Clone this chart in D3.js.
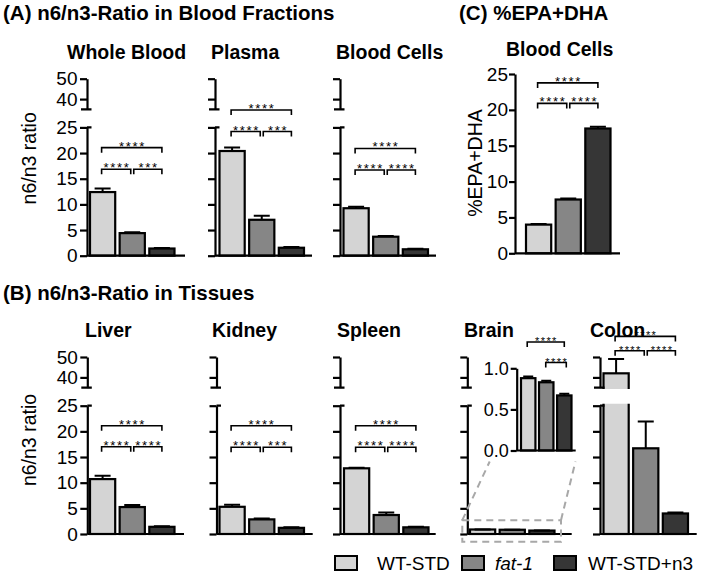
<!DOCTYPE html>
<html><head><meta charset="utf-8">
<script src="https://cdn.jsdelivr.net/npm/d3@7"></script>
<style>body{margin:0;background:#fff} svg{display:block} text{font-family:"Liberation Sans",Arial,Helvetica,sans-serif}</style>
</head><body><svg id="c" width="704" height="574"></svg>
<script>
// ---------------- DATA ----------------
const groups = ["WT-STD", "fat-1", "WT-STD+n3"];
const wholeBlood = [12.4, 4.4, 1.4],   wholeBloodErr = [0.7, 0.15, 0.12];
const plasma     = [20.4, 7.0, 1.55],  plasmaErr     = [0.7, 0.8, 0.15];
const bloodCells = [9.25, 3.7, 1.25],  bloodCellsErr = [0.3, 0.15, 0.1];
const liver      = [10.7, 5.25, 1.4],  liverErr      = [0.65, 0.4, 0.1];
const kidney     = [5.3, 2.85, 1.2],   kidneyErr     = [0.4, 0.15, 0.1];
const spleen     = [12.8, 3.7, 1.3],   spleenErr     = [0.1, 0.5, 0.1];
const brain      = [0.88, 0.83, 0.67], brainErr      = [0.02, 0.02, 0.02];
const colon      = [42, 16.7, 4.0],    colonErr      = [7, 5.2, 0.2];
const epaDha     = [4.0, 7.5, 17.4],   epaDhaErr     = [0.1, 0.15, 0.25];
// significance labels: [WT-STD vs WT-STD+n3, WT-STD vs fat-1, fat-1 vs WT-STD+n3]
const sigWholeBlood = ["****", "****", "***"];
const sigPlasma     = ["****", "****", "***"];
const sigBloodCells = ["****", "****", "****"];
const sigLiver      = ["****", "****", "****"];
const sigKidney     = ["****", "****", "***"];
const sigSpleen     = ["****", "****", "****"];
const sigColon      = ["****", "****", "****"];
const sigEpaDha     = ["****", "****", "****"];
const sigBrain      = ["****", null, "****"];
const ratioTicksLower = [0, 5, 10, 15, 20, 25];
const ratioTicksUpper = [40, 50];
const epaTicks = [0, 5, 10, 15, 20, 25];
const insetTicks = [0, 0.5, 1.0];

// ---------------- STYLE / LAYOUT ----------------
const color = d3.scaleOrdinal().domain(groups).range(["#d4d4d4", "#868686", "#363636"]);
const svg = d3.select("#c");
const defs = svg.append("defs");
const AX_W = 2.2;
const TICK_FS = 19;

const panels = [
  {id:"wb", title:"Whole Blood", tx:67,  base:255.7, axisX:87,  barStart:90,  axisEnd:185, values:wholeBlood, errs:wholeBloodErr, sig:sigWholeBlood, labels:true,  levels:[21.05,16.85]},
  {id:"pl", title:"Plasma",      tx:211, base:255.7, axisX:215, barStart:219.5, axisEnd:312, values:plasma, errs:plasmaErr, sig:sigPlasma, labels:false, levels:[28.4,24.2]},
  {id:"bc", title:"Blood Cells", tx:336, base:255.7, axisX:340, barStart:343.5, axisEnd:436, values:bloodCells, errs:bloodCellsErr, sig:sigBloodCells, labels:false, levels:[20.9,16.7]},
  {id:"li", title:"Liver",       tx:85,  base:534, axisX:87.3, barStart:90, axisEnd:184, values:liver, errs:liverErr, sig:sigLiver, labels:true, levels:[21.1,17.0]},
  {id:"ki", title:"Kidney",      tx:212, base:534, axisX:216.5, barStart:219.5, axisEnd:312.7, values:kidney, errs:kidneyErr, sig:sigKidney, labels:false, levels:[21.1,16.9]},
  {id:"sp", title:"Spleen",      tx:337, base:534, axisX:340, barStart:344, axisEnd:435.7, values:spleen, errs:spleenErr, sig:sigSpleen, labels:false, levels:[21.1,16.9]},
  {id:"br", title:"Brain",       tx:464, base:534, axisX:467.3, barStart:470, axisEnd:571.7, values:brain, errs:brainErr, sig:null, labels:false, levels:null},
  {id:"co", title:"Colon",       tx:590, base:534, axisX:600, barStart:603.5, axisEnd:696.7, values:colon, errs:colonErr, sig:sigColon, labels:false, levels:[38.5,35.7], small:true}
];

function styleAxis(sel, fs) {
  sel.attr("font-family", null).attr("font-size", null);
  sel.selectAll("path,line").attr("stroke", "#000").attr("stroke-width", AX_W);
  sel.selectAll("text").attr("font-size", fs).attr("fill", "#000");
}

function drawBrackets(g, cx, yFn, levels, sig, small) {
  const fs = small ? 11 : 13, ls = small ? 1.4 : 1.7;
  const defsB = [
    {lvl:levels[0], s:sig[0], x1:cx(0) - 1, x2:cx(2)},
    {lvl:levels[1], s:sig[1], x1:cx(0) - 1, x2:cx(1) - 1.5},
    {lvl:levels[1], s:sig[2], x1:cx(1) + 1.5, x2:cx(2)}
  ].filter(d => d.s);
  const bg = g.append("g");
  bg.selectAll("path").data(defsB).join("path")
    .attr("d", d => { const y = yFn(d.lvl); return `M${d.x1},${y + 5}V${y}H${d.x2}V${y + 5}`; })
    .attr("fill", "none").attr("stroke", "#000").attr("stroke-width", 1.6);
  bg.selectAll("text").data(defsB).join("text")
    .attr("x", d => (d.x1 + d.x2) / 2 + ls / 2).attr("y", d => yFn(d.lvl) + 3)
    .attr("text-anchor", "middle").attr("font-size", fs).attr("letter-spacing", ls)
    .text(d => d.s);
}

function drawErrors(g, cx, yFn, values, errs, cap) {
  const eg = g.append("g");
  eg.selectAll("path").data(groups).join("path")
    .attr("d", (d, i) => {
      const x0 = cx(i), y0 = yFn(values[i]), y1 = yFn(values[i] + errs[i]);
      return `M${x0},${y0}V${y1}M${x0 - cap / 2},${y1}H${x0 + cap / 2}`;
    })
    .attr("fill", "none").attr("stroke", "#000").attr("stroke-width", 2);
}

function drawBrokenPanel(p) {
  const g = svg.append("g");
  const yLow = d3.scaleLinear().domain([0, 25]).range([p.base, p.base - 128.3]);
  const yUp = d3.scaleLinear().domain([35, 50]).range([p.base - 146.4, p.base - 177]);
  const yPix = v => v > 30 ? yUp(v) : yLow(v);
  const x = d3.scaleBand().domain(groups).range([p.barStart, p.barStart + 84.5]).paddingInner(0.15);
  const cx = i => x(groups[i]) + x.bandwidth() / 2;

  g.append("text").attr("x", p.tx).attr("y", p.base - 196.7)
    .attr("font-size", 19.5).attr("font-weight", "bold").text(p.title);

  const cp = defs.append("clipPath").attr("id", "clip" + p.id);
  cp.append("rect").attr("x", 0).attr("width", 704).attr("y", yLow(25) - 2).attr("height", 128.3 + 14);
  cp.append("rect").attr("x", 0).attr("width", 704).attr("y", 0).attr("height", yUp(35) + 1.5);

  const bars = g.append("g").attr("clip-path", `url(#clip${p.id})`);
  bars.selectAll("rect").data(groups).join("rect")
    .attr("x", d => x(d)).attr("width", x.bandwidth())
    .attr("y", (d, i) => yPix(p.values[i]))
    .attr("height", (d, i) => p.base - yPix(p.values[i]))
    .attr("fill", d => color(d)).attr("stroke", "#000").attr("stroke-width", 2.2);
  drawErrors(g, cx, yPix, p.values, p.errs, 16);

  const fmt = p.labels ? d3.format("d") : () => "";
  const aLow = g.append("g").attr("transform", `translate(${p.axisX},0)`)
    .call(d3.axisLeft(yLow).tickValues(ratioTicksLower).tickSize(7).tickSizeOuter(0).tickPadding(2.5).tickFormat(fmt));
  styleAxis(aLow, TICK_FS);
  const aUp = g.append("g").attr("transform", `translate(${p.axisX},0)`)
    .call(d3.axisLeft(yUp).tickValues(ratioTicksUpper).tickSize(7).tickSizeOuter(0).tickPadding(2.5).tickFormat(fmt));
  styleAxis(aUp, TICK_FS);
  // break caps
  g.append("path")
    .attr("d", `M${p.axisX},${yLow(25)}H${p.axisX + 4.5}M${p.axisX - 6},${yUp(35)}H${p.axisX + 4.5}`)
    .attr("stroke", "#000").attr("stroke-width", AX_W);
  // baseline
  g.append("line").attr("x1", p.axisX).attr("x2", p.axisEnd).attr("y1", yLow(0)).attr("y2", yLow(0))
    .attr("stroke", "#000").attr("stroke-width", AX_W);

  if (p.sig) drawBrackets(g, cx, yLow, p.levels, p.sig, p.small);

  if (p.id === "br") drawBrainInset(g, p, yLow);
}

function drawBrainInset(g, p, yLow) {
  const ax = 516.7;
  const y = d3.scaleLinear().domain([0, 1]).range([450.5, 368.3]);
  const x = d3.scaleBand().domain(groups).range([521, 571.5]).paddingInner(0.2);
  const cx = i => x(groups[i]) + x.bandwidth() / 2;
  // dashed zoom box
  const dg = g.append("g").attr("fill", "none").attr("stroke", "#a8a8a8")
    .attr("stroke-width", 2).attr("stroke-dasharray", "7,5");
  const bx0 = p.axisX - 5, bx1 = p.axisEnd - 10.7, by0 = yLow(2.7), by1 = yLow(-1.5);
  dg.append("rect").attr("x", bx0).attr("y", by0).attr("width", bx1 - bx0).attr("height", by1 - by0);
  dg.append("line").attr("x1", bx0).attr("y1", by0).attr("x2", ax - 27).attr("y2", y(0) + 11);
  dg.append("line").attr("x1", bx1).attr("y1", by0).attr("x2", 575.5).attr("y2", y(0) + 11);

  g.append("g").selectAll("rect").data(groups).join("rect")
    .attr("x", d => x(d)).attr("width", x.bandwidth())
    .attr("y", (d, i) => y(brain[i])).attr("height", (d, i) => y(0) - y(brain[i]))
    .attr("fill", d => color(d)).attr("stroke", "#000").attr("stroke-width", 2.2);
  drawErrors(g, cx, y, brain, brainErr, 10);
  const a = g.append("g").attr("transform", `translate(${ax},0)`)
    .call(d3.axisLeft(y).tickValues(insetTicks).tickSize(6).tickSizeOuter(0).tickPadding(2).tickFormat(d3.format(".1f")));
  styleAxis(a, 18);
  g.append("line").attr("x1", ax).attr("x2", 575.7).attr("y1", y(0)).attr("y2", y(0))
    .attr("stroke", "#000").attr("stroke-width", AX_W);
  const bd = [
    {x1: cx(0) - 1, x2: cx(2), lvl: 1.32, s: sigBrain[0]},
    {x1: cx(1) - 0.5, x2: cx(2) + 2, lvl: 1.07, s: sigBrain[2]}
  ];
  const bg = g.append("g");
  bg.selectAll("path").data(bd).join("path")
    .attr("d", d => { const yy = y(d.lvl); return `M${d.x1},${yy + 5}V${yy}H${d.x2}V${yy + 5}`; })
    .attr("fill", "none").attr("stroke", "#000").attr("stroke-width", 1.6);
  bg.selectAll("text").data(bd).join("text")
    .attr("x", d => (d.x1 + d.x2) / 2 + 0.7).attr("y", d => y(d.lvl) + 3)
    .attr("text-anchor", "middle").attr("font-size", 11).attr("letter-spacing", 1.4).text(d => d.s);
}

panels.forEach(drawBrokenPanel);

// ---- Panel C ----
(function () {
  const g = svg.append("g");
  const axisX = 515, axisEnd = 620;
  const y = d3.scaleLinear().domain([0, 25]).range([253.3, 74]);
  const x = d3.scaleBand().domain(groups).range([526, 610.5]).paddingInner(0.15);
  const cx = i => x(groups[i]) + x.bandwidth() / 2;
  g.append("g").selectAll("rect").data(groups).join("rect")
    .attr("x", d => x(d)).attr("width", x.bandwidth())
    .attr("y", (d, i) => y(epaDha[i])).attr("height", (d, i) => y(0) - y(epaDha[i]))
    .attr("fill", d => color(d)).attr("stroke", "#000").attr("stroke-width", 2.2);
  drawErrors(g, cx, y, epaDha, epaDhaErr, 16);
  const a = g.append("g").attr("transform", `translate(${axisX},0)`)
    .call(d3.axisLeft(y).tickValues(epaTicks).tickSize(6).tickSizeOuter(0).tickPadding(1).tickFormat(d3.format("d")));
  styleAxis(a, TICK_FS);
  g.append("line").attr("x1", axisX).attr("x2", axisEnd).attr("y1", y(0)).attr("y2", y(0))
    .attr("stroke", "#000").attr("stroke-width", AX_W);
  drawBrackets(g, cx, y, [23.76, 20.9], sigEpaDha, false);
  g.append("text").attr("x", 506).attr("y", 56).attr("font-size", 19.5).attr("font-weight", "bold").text("Blood Cells");
  g.append("text").attr("transform", "translate(475,163) rotate(-90)").attr("text-anchor", "middle")
    .attr("dominant-baseline", "central").attr("font-size", 19.5).text("%EPA+DHA");
})();

// ---- Section titles & y labels ----
svg.append("text").attr("x", 3).attr("y", 19.5).attr("font-size", 20.5).attr("font-weight", "bold")
  .text("(A) n6/n3-Ratio in Blood Fractions");
svg.append("text").attr("x", 459).attr("y", 19.5).attr("font-size", 20.5).attr("font-weight", "bold")
  .text("(C) %EPA+DHA");
svg.append("text").attr("x", 3).attr("y", 300).attr("font-size", 20.5).attr("font-weight", "bold")
  .text("(B) n6/n3-Ratio in Tissues");
[158.3, 440].forEach(cy => {
  svg.append("text").attr("transform", `translate(28.5,${cy}) rotate(-90)`).attr("text-anchor", "middle")
    .attr("dominant-baseline", "central").attr("font-size", 19.5).text("n6/n3 ratio");
});

// ---- Legend ----
const legendPos = [[335, 377], [462, 495], [554, 588]];
const lg = svg.append("g").selectAll("g").data(groups).join("g");
lg.append("rect").attr("x", (d, i) => legendPos[i][0]).attr("y", 556).attr("width", 22).attr("height", 14)
  .attr("fill", d => color(d)).attr("stroke", "#000").attr("stroke-width", 2);
lg.append("text").attr("x", (d, i) => legendPos[i][1]).attr("y", 570).attr("font-size", 19)
  .attr("font-style", d => d === "fat-1" ? "italic" : null).text(d => d);
</script></body></html>
